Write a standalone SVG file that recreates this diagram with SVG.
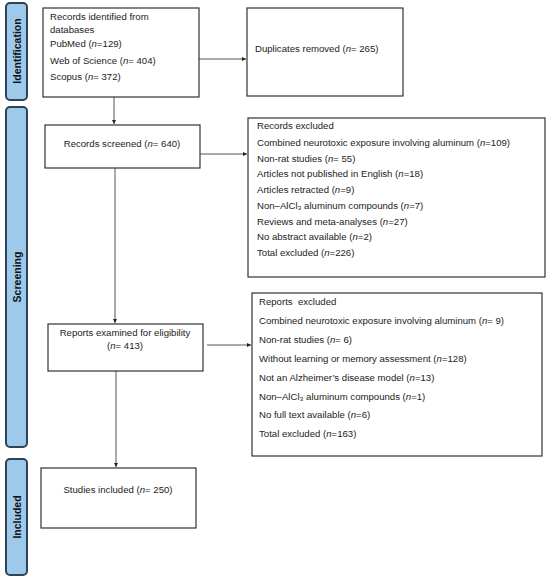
<svg xmlns="http://www.w3.org/2000/svg" width="550" height="580" viewBox="0 0 550 580">
<defs>
<style>
.bar{fill:#9dc9eb;stroke:#2f4257;stroke-width:2}
.box{fill:#fff;stroke:#333;stroke-width:1.2}
.t{font-family:"Liberation Sans",Arial,sans-serif;font-size:9.6px;fill:#222}
.bt{font-family:"Liberation Sans",Arial,sans-serif;font-size:10.5px;font-weight:bold;fill:#111}
.c{fill:none;stroke:#555;stroke-width:1}
</style>
<marker id="ah" viewBox="0 0 6 6" refX="6" refY="3" markerWidth="4" markerHeight="4" orient="auto">
<path d="M0,0 L6,3 L0,6 z" fill="#222"/>
</marker>
</defs>
<rect width="550" height="580" fill="#fff"/>
<g id="phase-identification">
<rect class="bar" x="6" y="3" width="21" height="97" rx="4"/>
<text class="bt" transform="translate(20.5,51) rotate(-90)" text-anchor="middle">Identification</text>
</g>
<g id="phase-screening">
<rect class="bar" x="6" y="107" width="21" height="340" rx="4"/>
<text class="bt" transform="translate(20.5,277) rotate(-90)" text-anchor="middle">Screening</text>
</g>
<g id="phase-included">
<rect class="bar" x="6" y="459" width="21" height="116" rx="4"/>
<text class="bt" transform="translate(20.5,517) rotate(-90)" text-anchor="middle">Included</text>
</g>
<g id="connectors">
<line class="c" x1="199" y1="59" x2="246" y2="59" marker-end="url(#ah)"/>
<line class="c" x1="114" y1="97" x2="114" y2="124" marker-end="url(#ah)"/>
<line class="c" x1="200" y1="154" x2="247" y2="154" marker-end="url(#ah)"/>
<line class="c" x1="115" y1="168" x2="115" y2="323" marker-end="url(#ah)"/>
<line class="c" x1="207" y1="345" x2="251" y2="345" marker-end="url(#ah)"/>
<line class="c" x1="116" y1="371" x2="116" y2="467" marker-end="url(#ah)"/>
</g>
<g id="records-identified">
<rect class="box" x="43" y="8" width="156" height="89"/>
<text class="t" x="50" y="20">Records identified from</text>
<text class="t" x="50" y="33">databases</text>
<text class="t" x="50" y="47">PubMed (<tspan font-style="italic">n</tspan>=129)</text>
<text class="t" x="50" y="64">Web of Science (<tspan font-style="italic">n</tspan>= 404)</text>
<text class="t" x="50" y="80">Scopus (<tspan font-style="italic">n</tspan>= 372)</text>
</g>
<g id="duplicates-removed">
<rect class="box" x="247" y="8" width="156" height="88"/>
<text class="t" x="255" y="52">Duplicates removed (<tspan font-style="italic">n</tspan>= 265)</text>
</g>
<g id="records-screened">
<rect class="box" x="45" y="125" width="155" height="43"/>
<text class="t" x="122" y="147" text-anchor="middle">Records screened (<tspan font-style="italic">n</tspan>= 640)</text>
</g>
<g id="records-excluded">
<rect class="box" x="248" y="118" width="297" height="159"/>
<text class="t" x="257" y="129">Records excluded</text>
<text class="t" x="257" y="146">Combined neurotoxic exposure involving aluminum (<tspan font-style="italic">n</tspan>=109)</text>
<text class="t" x="257" y="162">Non-rat studies (<tspan font-style="italic">n</tspan>= 55)</text>
<text class="t" x="257" y="177">Articles not published in English (<tspan font-style="italic">n</tspan>=18)</text>
<text class="t" x="257" y="193">Articles retracted (<tspan font-style="italic">n</tspan>=9)</text>
<text class="t" x="257" y="209">Non–AlCl₃ aluminum compounds (<tspan font-style="italic">n</tspan>=7)</text>
<text class="t" x="257" y="225">Reviews and meta-analyses (<tspan font-style="italic">n</tspan>=27)</text>
<text class="t" x="257" y="240">No abstract available (<tspan font-style="italic">n</tspan>=2)</text>
<text class="t" x="257" y="256">Total excluded (<tspan font-style="italic">n</tspan>=226)</text>
</g>
<g id="reports-examined">
<rect class="box" x="48" y="324" width="155" height="47"/>
<text class="t" x="125" y="336" text-anchor="middle">Reports examined for eligibility</text>
<text class="t" x="125" y="349" text-anchor="middle">(<tspan font-style="italic">n</tspan>= 413)</text>
</g>
<g id="reports-excluded">
<rect class="box" x="252" y="293" width="290" height="163"/>
<text class="t" x="259" y="305" xml:space="preserve">Reports  excluded</text>
<text class="t" x="259" y="324">Combined neurotoxic exposure involving aluminum (<tspan font-style="italic">n</tspan>= 9)</text>
<text class="t" x="259" y="343">Non-rat studies (<tspan font-style="italic">n</tspan>= 6)</text>
<text class="t" x="259" y="362">Without learning or memory assessment (<tspan font-style="italic">n</tspan>=128)</text>
<text class="t" x="259" y="381">Not an Alzheimer’s disease model (<tspan font-style="italic">n</tspan>=13)</text>
<text class="t" x="259" y="400">Non–AlCl₃ aluminum compounds (<tspan font-style="italic">n</tspan>=1)</text>
<text class="t" x="259" y="418">No full text available (<tspan font-style="italic">n</tspan>=6)</text>
<text class="t" x="259" y="437">Total excluded (<tspan font-style="italic">n</tspan>=163)</text>
</g>
<g id="studies-included">
<rect class="box" x="41" y="468" width="155" height="60"/>
<text class="t" x="118" y="493" text-anchor="middle">Studies included (<tspan font-style="italic">n</tspan>= 250)</text>
</g>
</svg>
